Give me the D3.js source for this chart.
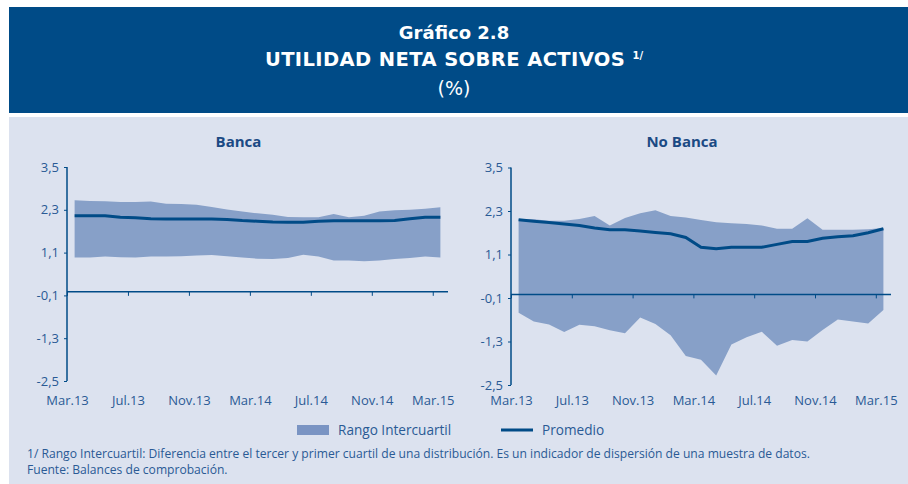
<!DOCTYPE html>
<html>
<head>
<meta charset="utf-8">
<script src="https://cdn.jsdelivr.net/npm/d3@7"></script>
<style>
  body { margin: 0; background: #fff; }
  svg text { font-family: "Open Sans", sans-serif; }
</style>
</head>
<body>
<svg id="chart" width="908" height="484"></svg>
<script>
// monthly categories, Mar.13 - Mar.15
const months = ["Mar.13","Abr.13","May.13","Jun.13","Jul.13","Ago.13","Sep.13","Oct.13","Nov.13","Dic.13","Ene.14","Feb.14",
  "Mar.14","Abr.14","May.14","Jun.14","Jul.14","Ago.14","Sep.14","Oct.14","Nov.14","Dic.14","Ene.15","Feb.15","Mar.15"];
const yTicks = [3.5, 2.3, 1.1, -0.1, -1.3, -2.5];
const xTickIdx = [0, 4, 8, 12, 16, 20, 24];

// Banca
const bancaQ3   = [2.57,2.55,2.54,2.52,2.52,2.53,2.47,2.46,2.44,2.38,2.31,2.25,2.20,2.16,2.10,2.09,2.09,2.18,2.09,2.13,2.25,2.29,2.30,2.33,2.37];
const bancaQ1   = [0.96,0.96,0.99,0.97,0.96,0.99,0.99,1.00,1.02,1.03,1.00,0.96,0.93,0.92,0.95,1.04,0.99,0.88,0.88,0.86,0.88,0.92,0.95,0.99,0.96];
const bancaMean = [2.13,2.13,2.13,2.09,2.08,2.05,2.04,2.04,2.04,2.04,2.03,2.00,1.98,1.96,1.95,1.95,1.98,1.99,1.99,1.99,1.99,2.00,2.05,2.09,2.09];

// No Banca
const noBancaQ3   = [2.08,2.07,2.03,2.03,2.08,2.16,1.90,2.11,2.24,2.32,2.16,2.12,2.05,1.99,1.96,1.94,1.90,1.81,1.81,2.10,1.78,1.78,1.78,1.80,1.83];
const noBancaQ1   = [-0.51,-0.75,-0.83,-1.04,-0.84,-0.88,-0.99,-1.07,-0.64,-0.82,-1.13,-1.70,-1.80,-2.24,-1.38,-1.18,-1.03,-1.42,-1.26,-1.30,-0.98,-0.69,-0.75,-0.80,-0.43];
const noBancaMean = [2.06,2.02,1.98,1.94,1.90,1.83,1.78,1.78,1.75,1.71,1.67,1.57,1.30,1.26,1.30,1.30,1.30,1.38,1.46,1.46,1.55,1.59,1.62,1.70,1.81];

const blue = "#004b87";
const bandColor = "#87a0c8";
const labelColor = "#2a5a95";
const headFont = "'DejaVu Sans', sans-serif";

const svg = d3.select("#chart");

// header
svg.append("rect").attr("x", 9).attr("y", 7).attr("width", 899).attr("height", 106).attr("fill", "#004b87");
svg.append("rect").attr("x", 9).attr("y", 117).attr("width", 899).attr("height", 367).attr("fill", "#dce2ef");

svg.append("text").attr("x", 454).attr("y", 39).attr("text-anchor", "middle").style("font-family", headFont)
  .attr("fill", "#fff").attr("font-size", 18).attr("font-weight", "bold").text("Gráfico 2.8");
const t2 = svg.append("text").attr("x", 454).attr("y", 66).attr("text-anchor", "middle").style("font-family", headFont)
  .attr("fill", "#fff").attr("font-size", 19.5).attr("font-weight", "bold").attr("letter-spacing", 0.4);
t2.append("tspan").text("UTILIDAD NETA SOBRE ACTIVOS ");
t2.append("tspan").attr("font-size", 10).attr("letter-spacing", 0).attr("dy", -7).text("1/");
svg.append("text").attr("x", 454).attr("y", 95).attr("text-anchor", "middle").style("font-family", headFont)
  .attr("fill", "#fff").attr("font-size", 19).text("(%)");

function drawPanel(title, q3, q1, mean, x0, x1, yTop, yBot) {
  const x = d3.scaleLinear().domain([0, months.length]).range([x0, x1]);
  const y = d3.scaleLinear().domain([-2.5, 3.5]).range([yBot, yTop]);
  const g = svg.append("g");

  g.append("text").attr("x", (x0 + x1) / 2 - 19).attr("y", 147).attr("text-anchor", "middle")
    .attr("fill", "#1b4a84").attr("font-size", 15).attr("font-weight", "bold").text(title);

  const band = d3.area()
    .x((d, i) => x(i + 0.5))
    .y0((d, i) => y(q1[i]))
    .y1((d, i) => y(q3[i]));
  g.append("path").datum(q3).attr("d", band).attr("fill", bandColor);

  const line = d3.line().x((d, i) => x(i + 0.5)).y(d => y(d));
  g.append("path").datum(mean).attr("d", line)
    .attr("fill", "none").attr("stroke", blue).attr("stroke-width", 3);

  // y axis
  const ya = g.append("g").attr("transform", `translate(${x0},0)`)
    .call(d3.axisLeft(y).tickValues(yTicks).tickSize(3).tickPadding(5)
      .tickFormat(d => d.toFixed(1).replace(".", ",")));
  ya.select(".domain").attr("stroke", blue).attr("stroke-width", 1.5).attr("d", `M0,${yTop}V${yBot}`);
  ya.selectAll(".tick line").attr("stroke", blue);
  ya.selectAll(".tick text").attr("fill", labelColor).attr("font-size", 13)
    .attr("font-family", "'Open Sans', sans-serif");

  // x axis at zero
  const xa = g.append("g").attr("transform", `translate(0,${y(0)})`)
    .call(d3.axisBottom(x).tickValues(xTickIdx).tickSize(4).tickPadding(0)
      .tickFormat(i => months[i]));
  xa.select(".domain").attr("stroke", blue).attr("stroke-width", 1.5).attr("d", `M${x0},0H${x1}`);
  xa.selectAll(".tick line").attr("stroke", blue);
  xa.selectAll(".tick text").attr("fill", labelColor).attr("font-size", 13)
    .attr("font-family", "'Open Sans', sans-serif")
    .attr("y", 396 - y(0));
}

drawPanel("Banca", bancaQ3, bancaQ1, bancaMean, 67, 448, 167, 381);
drawPanel("No Banca", noBancaQ3, noBancaQ1, noBancaMean, 511, 891, 167.5, 385);

// legend
svg.append("rect").attr("x", 297).attr("y", 425).attr("width", 32).attr("height", 10).attr("fill", "#7a94c3");
svg.append("text").attr("x", 338).attr("y", 435).attr("fill", labelColor).attr("font-size", 13.6).text("Rango Intercuartil");
svg.append("line").attr("x1", 501).attr("x2", 533).attr("y1", 430).attr("y2", 430)
  .attr("stroke", blue).attr("stroke-width", 3);
svg.append("text").attr("x", 542).attr("y", 435).attr("fill", labelColor).attr("font-size", 13.6).text("Promedio");

// notes
svg.append("text").attr("x", 27).attr("y", 458).attr("fill", labelColor).attr("font-size", 12.1)
  .text("1/ Rango Intercuartil: Diferencia entre el tercer y primer cuartil de una distribución. Es un indicador de dispersión de una muestra de datos.");
svg.append("text").attr("x", 27).attr("y", 474).attr("fill", labelColor).attr("font-size", 12.1)
  .text("Fuente: Balances de comprobación.");
</script>
</body>
</html>
